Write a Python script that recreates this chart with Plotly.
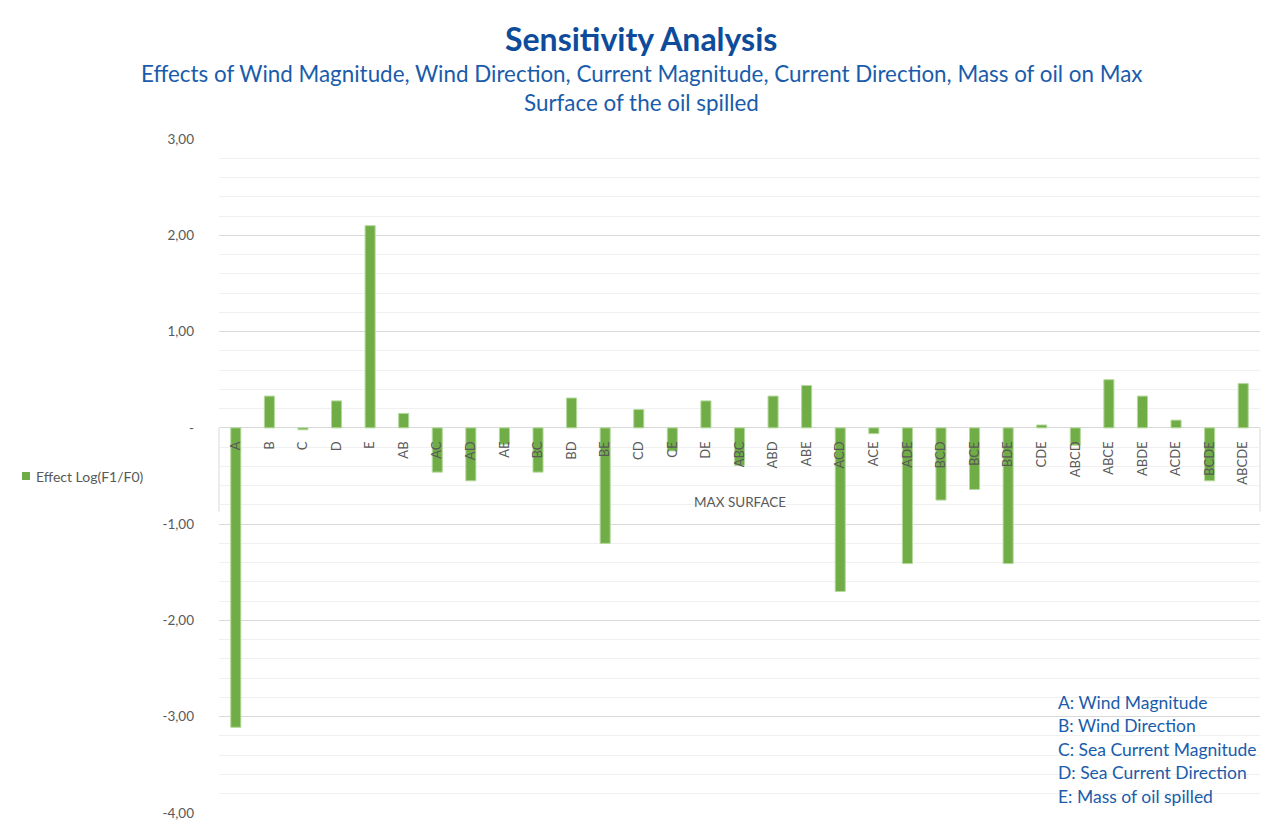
import plotly.graph_objects as go

# Factor combinations and their effect on the maximum surface of the spill
factors = ["A", "B", "C", "D", "E", "AB", "AC", "AD", "AE", "BC", "BD", "BE",
           "CD", "CE", "DE", "ABC", "ABD", "ABE", "ACD", "ACE", "ADE", "BCD",
           "BCE", "BDE", "CDE", "ABCD", "ABCE", "ABDE", "ACDE", "BCDE", "ABCDE"]
effects = [-3.11, 0.33, -0.02, 0.28, 2.10, 0.15, -0.46, -0.55, -0.17, -0.46,
           0.31, -1.20, 0.19, -0.24, 0.28, -0.39, 0.33, 0.44, -1.70, -0.06,
           -1.41, -0.75, -0.64, -1.41, 0.03, -0.18, 0.50, 0.33, 0.08, -0.55, 0.46]

y_ticks = [3, 2, 1, 0, -1, -2, -3, -4]
y_tick_text = ["3,00", "2,00", "1,00", "-", "-1,00", "-2,00", "-3,00", "-4,00"]

series_name = "Effect Log(F1/F0)"
factor_key = ["A: Wind Magnitude", "B: Wind Direction", "C: Sea Current Magnitude",
              "D: Sea Current Direction", "E: Mass of oil spilled"]

FONT = "Lato, 'Open Sans', sans-serif"
GREY = "#595959"
BAR_GREEN = "#70AD47"
Y_MIN, Y_MAX = -4, 3
PLOT_L, PLOT_R, PLOT_T, PLOT_B = 219, 1260, 139, 813
W, H = 1277, 827


def px_x(x):
    return (x - PLOT_L) / (PLOT_R - PLOT_L)


def px_y(y):
    return (PLOT_B - y) / (PLOT_B - PLOT_T)


fig = go.Figure()
fig.add_trace(go.Bar(
    x=factors, y=effects, name=series_name, showlegend=False,
    marker=dict(color=BAR_GREEN, line=dict(color="#B5D99C", width=1)),
))

fig.update_layout(
    width=W, height=H,
    margin=dict(l=PLOT_L, r=W - PLOT_R, t=PLOT_T, b=H - PLOT_B, autoexpand=False),
    paper_bgcolor="white", plot_bgcolor="white",
    font=dict(family=FONT, color=GREY, size=13),
    bargap=0.70,
    xaxis=dict(type="category", anchor="free",
               position=(0 - Y_MIN) / (Y_MAX - Y_MIN),
               showgrid=False, showline=False, zeroline=False,
               tickangle=-90, ticks="", ticklabelstandoff=10,
               tickfont=dict(size=13, color=GREY), automargin=False),
    yaxis=dict(range=[Y_MIN, Y_MAX], tickvals=y_ticks, ticktext=y_tick_text,
               showgrid=True, gridcolor="#D9D9D9", gridwidth=1,
               minor=dict(dtick=0.2, showgrid=True, gridcolor="#F0F0F0", gridwidth=1),
               zeroline=True, zerolinecolor="#D9D9D9", zerolinewidth=1,
               showline=False, ticks="", ticklabelstandoff=24,
               tickfont=dict(size=13.5, color=GREY), automargin=False),
)

# Series key on the left
fig.add_shape(type="rect", xref="paper", yref="paper",
              x0=px_x(22), x1=px_x(30), y0=px_y(480), y1=px_y(472),
              fillcolor=BAR_GREEN, line=dict(width=0))
fig.add_annotation(text=series_name, xref="paper", yref="paper",
                   x=px_x(34), y=px_y(476), xanchor="left", yanchor="middle",
                   showarrow=False, font=dict(size=14, color=GREY))

# Category label box below the zero line
for xp in (0, 1):
    fig.add_shape(type="line", xref="paper", yref="y", x0=xp, x1=xp, y0=0, y1=-0.87,
                  line=dict(color="#D9D9D9", width=1), layer="below")

fig.add_annotation(text="MAX SURFACE", xref="paper", yref="y", x=0.5, y=-0.77,
                   showarrow=False, font=dict(size=13.5, color=GREY))

# Title and subtitle
fig.add_annotation(text="<b>Sensitivity Analysis</b>", xref="paper", yref="paper",
                   x=px_x(641), y=px_y(38), xanchor="center", yanchor="middle",
                   showarrow=False, font=dict(size=32, color="#0E4C9B", family=FONT))
subtitle = ["Effects of Wind Magnitude, Wind Direction, Current Magnitude, Current Direction, Mass of oil on Max",
            "Surface of the oil spilled"]
for line, yp in zip(subtitle, (73, 102)):
    fig.add_annotation(text=line, xref="paper", yref="paper", x=px_x(641), y=px_y(yp),
                       xanchor="center", yanchor="middle", showarrow=False,
                       font=dict(size=22.4, color="#1A5CAB", family=FONT))

# Factor key
for i, line in enumerate(factor_key):
    fig.add_annotation(text=line, xref="paper", yref="paper",
                       x=px_x(1056), y=px_y(702 + i * 23.5),
                       xanchor="left", yanchor="middle", showarrow=False,
                       font=dict(size=17.5, color="#1A5CAB", family=FONT))

fig.write_html("out.html")
